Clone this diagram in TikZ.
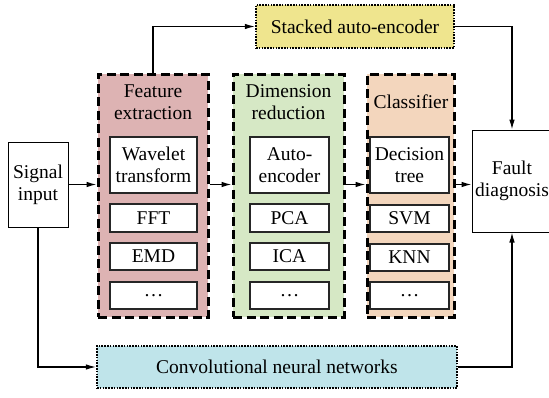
\documentclass[tikz,border=0pt]{standalone}
\usepackage{fontspec}
\setmainfont{Liberation Serif}
\newfontfamily\timesf{Liberation Serif}
\usetikzlibrary{arrows.meta}
\definecolor{fepink}{RGB}{221,179,179}
\definecolor{drgreen}{RGB}{214,232,197}
\definecolor{clorange}{RGB}{243,214,189}
\definecolor{saeyellow}{RGB}{239,229,142}
\definecolor{cnncyan}{RGB}{191,228,234}
\tikzset{
  txt/.style={font=\timesf\fontsize{19.5}{22}\selectfont, align=center},
  group/.style={draw=black, line width=3pt, dash pattern=on 9pt off 4.5pt, inner sep=0pt},
  dotbox/.style={draw=black, line width=2.2pt, dash pattern=on 1.6pt off 1.2pt, inner sep=0pt, txt},
  inbox/.style={draw=black!85, line width=1.3pt, fill=white, inner sep=0pt, txt},
  plainbox/.style={draw=black, line width=1pt, fill=white, inner sep=0pt, txt},
  arr/.style={draw=black, line width=1.1pt, -{Latex[length=10pt,width=5.5pt]}},
}
\begin{document}
\begin{tikzpicture}[x=1pt,y=-1pt]
\useasboundingbox (0,0) rectangle (549,397);
% groups
\node[group, fill=fepink, minimum width=110pt, minimum height=243pt] (fe) at (153,195.5) {};
\node[group, fill=drgreen, minimum width=111pt, minimum height=243pt] (dr) at (288.5,195.5) {};
\node[group, fill=clorange, minimum width=87pt, minimum height=243pt] (cl) at (410.5,195.5) {};
\node[txt] (fet) at (153,102.5) {Feature\\extraction};
\node[txt] (drt) at (288.5,102.5) {Dimension\\reduction};
\node[txt] (clt) at (411,102) {Classifier};
% inner boxes
\node[inbox, minimum width=87pt, minimum height=56pt] (wt) at (153.5,165) {Wavelet\\transform};
\node[inbox, minimum width=87pt, minimum height=28pt] (fft) at (153.5,218) {FFT};
\node[inbox, minimum width=87pt, minimum height=27pt] (emd) at (153.5,256.5) {EMD};
\node[inbox, minimum width=87pt, minimum height=27pt] (fed) at (153.5,295.5) {\dots};
\node[inbox, minimum width=79pt, minimum height=56pt] (ae) at (289.5,165) {Auto-\\encoder};
\node[inbox, minimum width=79pt, minimum height=28pt] (pca) at (289.5,218) {PCA};
\node[inbox, minimum width=79pt, minimum height=27pt] (ica) at (289.5,256.5) {ICA};
\node[inbox, minimum width=79pt, minimum height=27pt] (drd) at (289.5,295.5) {\dots};
\node[inbox, minimum width=79pt, minimum height=56pt] (dt) at (409.5,165) {Decision\\tree};
\node[inbox, minimum width=79pt, minimum height=27pt] (svm) at (409.5,218.5) {SVM};
\node[inbox, minimum width=79pt, minimum height=27pt] (knn) at (409.5,257.5) {KNN};
\node[inbox, minimum width=79pt, minimum height=27pt] (cld) at (409.5,295.5) {\dots};
% end boxes
\node[plainbox, minimum width=60pt, minimum height=85pt] (sig) at (38,184.5) {Signal\\input};
\node[plainbox, minimum width=80pt, minimum height=102pt] (fd) at (512,181) {Fault\\diagnosis};
% long boxes
\node[dotbox, fill=saeyellow, minimum width=198pt, minimum height=43pt] (sae) at (355,26.5) {Stacked auto-encoder};
\node[dotbox, fill=cnncyan, minimum width=360pt, minimum height=42pt] (cnn) at (277,367) {Convolutional neural networks};
% connectors
\draw[arr] (sig.east) -- (sig.east -| fe.west);
\draw[arr] (sig.east -| fe.east) -- (sig.east -| dr.west);
\draw[arr] (sig.east -| dr.east) -- (sig.east -| cl.west);
\draw[arr] (sig.east -| cl.east) -- (sig.east -| fd.west);
\draw[arr] (fe.north) |- (sae.west);
\draw[arr] (sae.east) -| (fd.north);
\draw[arr] (sig.south) |- (cnn.west);
\draw[arr] (cnn.east) -| (fd.south);
\end{tikzpicture}
\end{document}
